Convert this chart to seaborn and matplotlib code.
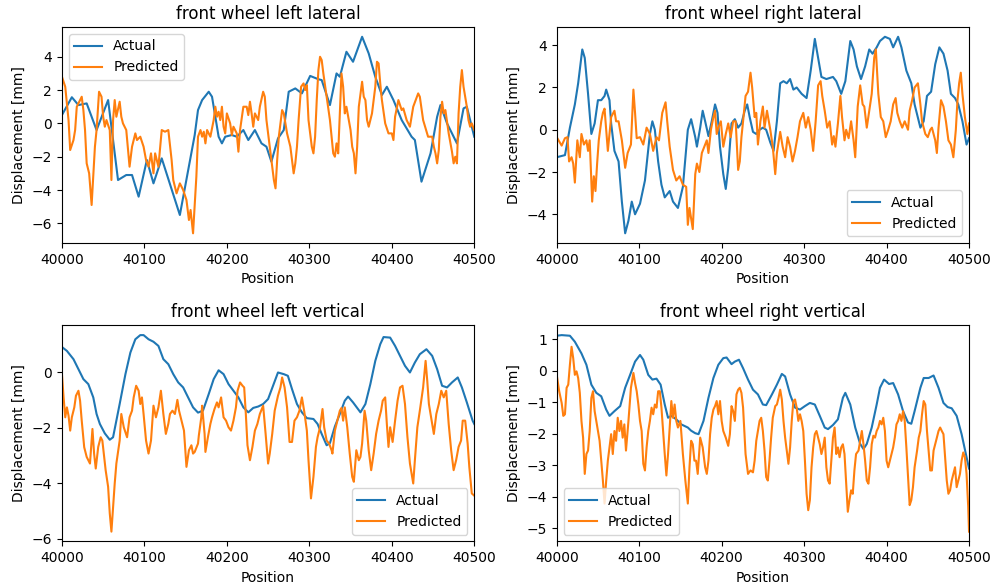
import matplotlib
matplotlib.use("Agg")
import matplotlib.pyplot as plt
import seaborn as sns
import pandas as pd

BASE = 40000
XTICKS = [40000, 40100, 40200, 40300, 40400, 40500]
TITLES = ["front wheel left lateral", "front wheel right lateral",
          "front wheel left vertical", "front wheel right vertical"]
SERIES = ["Actual", "Predicted"]
COLORS = ["#1f77b4", "#ff7f0e"]
LEGEND_LOC = ["upper left", "lower right", "lower right", "lower left"]

# ---------- front wheel left lateral ----------
p1_act_x = [0, 12, 20, 30, 42, 56, 68, 78, 85, 93,
            103, 111, 121, 143, 161, 165, 170, 178, 182, 186,
            190, 194, 198, 206, 212, 220, 226, 234, 242, 248,
            254, 262, 269, 275, 283, 291, 301, 311, 315, 325,
            333, 337, 345, 353, 364, 372, 380, 388, 394, 402,
            412, 424, 428, 436, 447, 455, 459, 467, 479, 487,
            491, 500]
p1_act_y = [0.5, 1.57, 1.1, 1.2, -0.4, 1.4, -3.4, -3.1, -3.1, -4.4,
            -2.2, -3.6, -2.1, -5.5, -0.7, 0.8, 1.4, 1.9, 1.6, 0.4,
            -0.8, -1.2, -0.8, -0.7, -0.8, -0.4, -1.0, -0.4, -1.2, -1.4,
            -2.3, -0.9, -0.4, 1.9, 2.1, 1.8, 2.85, 2.65, 2.6, 1.1,
            3.0, 2.8, 4.3, 3.7, 5.2, 4.2, 2.8, 1.7, 2.2, 1.4,
            0.2, -0.8, -1.0, -3.5, -1.8, 0.4, 1.1, 0.0, -1.2, 0.9,
            1.0, -0.8]
p1_pred_x = [0, 4, 8, 10, 14, 16, 18, 21, 24, 26,
             28, 30, 33, 36, 38, 40, 42, 45, 48, 50,
             52, 54, 58, 60, 62, 64, 66, 70, 72, 74,
             78, 82, 85, 89, 91, 95, 99, 102, 105, 108,
             111, 113, 117, 121, 125, 129, 133, 135, 139, 143,
             147, 151, 154, 156, 159, 163, 165, 168, 170, 172,
             174, 176, 180, 184, 186, 188, 190, 192, 194, 196,
             198, 200, 204, 206, 208, 212, 214, 216, 220, 224,
             226, 228, 230, 232, 234, 238, 240, 244, 246, 248,
             252, 254, 257, 259, 261, 263, 267, 269, 273, 277,
             279, 281, 283, 285, 287, 290, 293, 295, 297, 299,
             303, 305, 307, 309, 311, 313, 315, 317, 321, 325,
             329, 331, 333, 335, 337, 339, 341, 343, 345, 350,
             352, 354, 356, 358, 360, 364, 366, 368, 370, 372,
             376, 380, 382, 384, 386, 388, 392, 396, 400, 402,
             404, 408, 412, 414, 418, 422, 426, 432, 434, 438,
             444, 449, 451, 453, 455, 457, 459, 461, 463, 465,
             469, 473, 475, 477, 479, 481, 483, 485, 487, 491,
             493, 495, 497, 500]
p1_pred_y = [2.8, 2.2, 0.2, -1.6, -1.0, -0.4, 1.0, 1.3, 1.6, 0.8,
             -0.4, -2.4, -3.0, -4.9, -3.2, -1.4, -0.4, 1.9, 1.6, 0.4,
             -0.2, 0.2, -0.4, -3.4, 0.2, 1.4, 0.4, 1.3, 0.4, 0.0,
             -0.4, -2.6, -1.4, -0.6, -1.0, -0.8, -1.4, -2.2, -2.6, -1.8,
             -3.0, -1.8, -2.6, -0.4, -0.5, -0.4, -2.2, -3.4, -4.2, -3.6,
             -4.0, -4.6, -5.8, -5.2, -6.6, -3.2, -0.8, -0.4, -0.8, -0.5,
             -1.2, -0.4, -0.8, 0.2, 1.0, 0.4, 0.7, 0.2, 1.0, -0.2,
             -0.6, 0.6, 0.0, -0.7, -0.2, -0.6, -1.7, -0.4, 1.0, 1.0,
             0.5, 1.3, 0.6, -0.2, 0.6, 0.2, 1.0, 1.9, 1.6, 0.2,
             -1.4, -2.2, -3.4, -3.9, -2.2, -0.8, 0.8, 0.6, -0.6, -1.4,
             -2.2, -3.0, -2.4, -1.4, 0.2, 2.2, 2.4, 2.0, 2.3, 0.2,
             -1.4, -1.8, -0.8, 1.4, 3.2, 4.0, 3.8, 3.0, 1.6, 0.2,
             -1.8, -2.0, -1.2, -1.8, 0.6, 3.0, 2.2, 0.6, 1.0, -0.4,
             -1.4, -1.8, -3.0, -1.4, 1.0, 2.5, 1.6, 1.4, 0.2, -0.2,
             0.6, 2.2, 3.7, 3.6, 2.4, 1.4, 0.0, -0.6, -0.6, -1.0,
             0.4, 1.4, 0.8, 0.9, 0.2, -0.2, 1.0, 1.8, 1.6, 0.2,
             -0.8, -0.8, -1.4, -1.8, -2.4, -1.6, 0.4, 1.3, 0.6, 0.8,
             -0.6, -1.7, -2.4, -2.0, -2.4, 0.6, 2.2, 3.2, 2.2, 1.0,
             0.2, -0.2, 0.0, -0.4]

# ---------- front wheel right lateral ----------
p2_act_x = [0, 10, 16, 22, 26, 31, 34, 38, 42, 46,
            50, 54, 58, 60, 64, 66, 70, 75, 79, 83,
            87, 91, 95, 101, 107, 113, 116, 119, 123, 127,
            131, 137, 141, 147, 153, 159, 163, 168, 170, 174,
            177, 180, 184, 188, 192, 195, 198, 202, 205, 208,
            212, 216, 220, 224, 228, 231, 234, 238, 242, 246,
            250, 254, 259, 263, 267, 271, 275, 279, 283, 287,
            291, 297, 303, 308, 313, 317, 321, 327, 335, 339,
            345, 350, 356, 360, 364, 369, 374, 379, 383, 388,
            392, 398, 404, 408, 414, 418, 424, 430, 434, 441,
            445, 449, 454, 459, 464, 469, 474, 478, 483, 487,
            492, 497, 500]
p2_act_y = [-1.3, -1.2, 0.1, 1.2, 2.2, 3.8, 3.4, 1.7, -0.2, 0.3,
            1.4, 1.4, 1.6, 1.9, 1.4, 0.3, -1.0, -1.5, -3.4, -4.9,
            -4.3, -3.4, -4.0, -3.5, -2.4, -0.2, 0.4, 0.0, -1.5, -2.6,
            -3.2, -2.9, -3.4, -3.7, -2.7, 0.0, 0.5, -0.35, -0.8, 0.1,
            0.9, 0.4, -0.3, 0.4, 1.2, 0.8, -0.8, -2.1, -2.8, -1.8,
            0.3, 0.5, 0.1, 0.3, 0.9, 1.2, 0.6, -0.1, -0.2, 0.0,
            0.1, 0.0, -0.6, -1.0, 0.4, 2.2, 2.3, 2.2, 2.4, 1.9,
            2.0, 1.7, 1.5, 2.8, 4.3, 3.4, 2.5, 2.4, 2.5, 2.3,
            1.7, 2.3, 4.2, 3.8, 3.0, 2.4, 3.0, 3.8, 3.6, 3.9,
            4.2, 4.4, 4.3, 3.9, 4.4, 3.9, 2.8, 2.2, 1.2, 0.1,
            0.4, 1.6, 1.8, 3.1, 3.9, 3.6, 2.8, 1.7, 1.5, 1.2,
            0.4, -0.7, -0.4]
p2_pred_x = [0, 6, 10, 13, 15, 18, 20, 22, 25, 28,
             30, 33, 36, 38, 40, 43, 45, 47, 49, 51,
             54, 56, 58, 60, 62, 66, 70, 72, 75, 79,
             83, 86, 90, 93, 95, 97, 101, 105, 109, 113,
             117, 121, 124, 128, 132, 134, 137, 141, 145, 149,
             153, 157, 159, 161, 165, 168, 170, 173, 176, 178,
             182, 184, 187, 190, 192, 194, 196, 199, 202, 205,
             208, 211, 214, 217, 220, 222, 224, 226, 229, 232,
             235, 237, 240, 242, 244, 247, 250, 252, 255, 259,
             262, 265, 267, 271, 274, 277, 280, 283, 286, 289,
             292, 295, 299, 302, 305, 308, 311, 314, 317, 320,
             322, 325, 328, 331, 334, 336, 338, 341, 344, 346,
             349, 351, 354, 357, 360, 362, 365, 368, 371, 373,
             376, 379, 382, 385, 387, 390, 393, 396, 399, 402,
             405, 408, 411, 413, 416, 419, 422, 426, 428, 431,
             434, 438, 441, 443, 447, 450, 453, 455, 459, 461,
             463, 466, 469, 472, 475, 478, 481, 484, 486, 488,
             490, 492, 495, 498, 500]
p2_pred_y = [-0.35, -0.75, -0.4, -0.35, -1.5, -1.3, -1.6, -2.5, -0.5, -1.3,
             -0.2, -0.7, -0.5, -1.0, -0.5, -3.4, -2.2, -2.9, -1.6, -0.5,
             0.4, 0.8, 1.0, 0.0, -1.0, 0.6, 0.9, 0.4, 0.4, -0.5,
             -1.8, -1.1, -0.7, 1.9, 0.8, -0.4, -0.35, -0.7, 0.1, -0.2,
             -1.0, -0.35, -0.5, 0.8, 1.3, 0.4, -0.8, -1.9, -2.4, -2.2,
             -2.6, -2.7, -4.5, -3.7, -4.7, -2.1, -1.6, -2.0, -1.1, -0.9,
             -0.5, -1.1, 0.0, 0.6, 0.9, -0.2, 0.1, 0.4, -0.8, -0.2,
             0.3, -0.35, 0.4, 0.4, -1.9, -1.5, -0.35, 0.4, 1.6, 1.8,
             2.7, 2.0, 0.6, 0.8, -0.7, 0.4, 1.1, 0.1, 0.9, 0.0,
             -0.8, -2.1, -1.1, -0.1, -0.8, -1.3, -0.35, -0.8, -1.5, -1.0,
             -0.35, 0.4, 0.8, 0.1, 0.6, 0.0, -1.0, 0.4, 2.1, 2.3,
             1.6, 0.9, 0.1, 0.4, -0.7, -0.3, -0.8, 0.3, 1.6, 0.6,
             -0.5, 0.0, -0.4, 0.4, -0.5, -1.3, 1.1, 2.1, 1.2, 1.1,
             0.1, 0.9, 1.7, 3.4, 3.8, 1.7, 0.6, 0.4, -0.35, 0.0,
             0.4, 1.2, 1.5, 0.8, 0.4, 0.1, 0.4, 0.0, 0.9, 1.4,
             2.0, 2.2, 1.2, 0.4, -0.2, -0.35, 0.0, 0.1, -0.5, -1.1,
             0.1, 1.4, 1.1, 0.4, -0.5, -0.7, -1.3, 0.0, 1.4, 2.2,
             2.7, 1.7, 0.6, -0.2, 0.3]

# ---------- front wheel left vertical ----------
p3_act_x = [0, 6, 14, 20, 26, 32, 38, 42, 46, 52,
            58, 62, 66, 70, 77, 83, 89, 95, 99, 105,
            111, 117, 123, 129, 135, 141, 147, 153, 159, 165,
            171, 178, 184, 190, 196, 202, 208, 214, 220, 226,
            232, 238, 244, 250, 256, 262, 269, 274, 279, 285,
            291, 297, 305, 310, 315, 321, 325, 331, 337, 343,
            347, 353, 362, 368, 374, 380, 386, 390, 398, 404,
            410, 416, 422, 428, 434, 442, 449, 455, 461, 467,
            473, 480, 485, 491, 498, 500]
p3_act_y = [0.92, 0.78, 0.48, 0.12, -0.24, -0.42, -0.9, -1.5, -1.86, -2.2,
            -2.43, -2.34, -1.74, -1.14, -0.06, 0.72, 1.2, 1.35, 1.35, 1.2,
            1.11, 0.96, 0.48, 0.3, -0.06, -0.36, -0.54, -0.9, -1.26, -1.45,
            -1.38, -0.78, -0.24, 0.08, -0.06, -0.42, -0.66, -0.9, -1.26, -1.44,
            -1.28, -1.23, -1.14, -0.96, -0.48, 0.0, -0.06, -0.12, -0.6, -1.14,
            -1.44, -1.65, -1.68, -1.86, -2.22, -2.63, -2.55, -1.95, -1.5, -1.02,
            -0.87, -1.08, -1.44, -1.14, -0.42, 0.42, 1.02, 1.28, 1.26, 0.96,
            0.6, 0.24, 0.0, 0.36, 0.66, 0.84, 0.6, 0.12, -0.48, -0.54,
            -0.36, -0.18, -0.54, -1.08, -1.74, -1.86]
p3_pred_x = [0, 2, 4, 6, 8, 10, 12, 15, 17, 20,
             22, 24, 27, 30, 34, 37, 39, 41, 44, 47,
             49, 53, 56, 58, 60, 62, 64, 66, 70, 72,
             75, 79, 82, 85, 87, 90, 93, 95, 97, 99,
             102, 105, 108, 111, 114, 117, 120, 123, 126, 129,
             131, 134, 137, 140, 142, 145, 148, 151, 154, 157,
             159, 161, 165, 166, 169, 170, 173, 174, 177, 180,
             182, 185, 188, 190, 193, 196, 199, 202, 205, 208,
             211, 213, 216, 219, 221, 223, 225, 228, 231, 234,
             237, 240, 244, 247, 250, 252, 255, 258, 262, 265,
             267, 270, 273, 276, 279, 282, 285, 288, 291, 294,
             297, 299, 302, 305, 308, 310, 313, 316, 318, 321,
             324, 327, 328, 331, 334, 337, 339, 341, 343, 346,
             349, 352, 354, 357, 360, 362, 364, 367, 369, 372,
             375, 378, 381, 384, 387, 389, 392, 394, 396, 398,
             401, 404, 407, 410, 413, 416, 419, 422, 426, 428,
             431, 434, 438, 441, 443, 445, 447, 451, 454, 457,
             460, 463, 466, 469, 472, 475, 478, 481, 484, 486,
             489, 492, 494, 497, 500]
p3_pred_y = [-0.06, -0.9, -1.62, -1.26, -1.56, -2.1, -1.62, -1.26, -0.84, -0.66,
             -1.02, -1.74, -2.7, -3.05, -3.29, -2.04, -2.93, -3.47, -2.69, -2.34,
             -2.46, -3.53, -4.13, -5.09, -5.75, -4.85, -4.01, -3.29, -2.46, -1.5,
             -1.98, -2.34, -1.62, -1.38, -0.9, -0.48, -0.66, -1.14, -0.9, -1.5,
             -2.46, -2.93, -2.46, -1.2, -1.62, -1.26, -0.66, -1.5, -2.22, -1.86,
             -1.5, -1.38, -1.5, -0.99, -1.38, -1.74, -2.1, -3.41, -2.81, -2.63,
             -2.93, -2.87, -2.57, -2.28, -1.62, -1.2, -2.22, -2.87, -2.34, -1.86,
             -1.62, -1.32, -1.08, -1.26, -0.9, -1.62, -1.74, -1.98, -2.1, -1.74,
             -1.26, -0.66, -0.36, -0.48, -0.54, -1.5, -2.63, -3.17, -2.69, -2.1,
             -1.86, -1.5, -1.2, -2.22, -3.29, -2.93, -2.22, -1.38, -0.84, -0.54,
             -0.18, -0.54, -1.26, -2.51, -2.51, -1.74, -1.62, -1.38, -0.9, -1.44,
             -2.1, -3.17, -4.55, -3.77, -2.69, -2.34, -1.98, -1.32, -1.98, -2.46,
             -2.57, -2.81, -2.93, -2.1, -1.74, -1.38, -1.28, -1.74, -1.26, -1.98,
             -2.93, -3.77, -3.95, -2.81, -3.17, -3.05, -2.57, -1.38, -1.74, -2.81,
             -3.53, -2.93, -2.22, -1.74, -1.38, -1.02, -0.9, -1.86, -2.69, -1.98,
             -2.51, -1.74, -1.02, -0.54, -0.48, -1.14, -2.34, -3.29, -4.01, -3.17,
             -1.98, -1.38, -0.54, 0.42, -0.3, -1.14, -1.5, -2.22, -1.5, -1.14,
             -0.66, -0.9, -0.66, -1.86, -2.81, -3.53, -3.17, -2.69, -2.46, -1.74,
             -1.74, -2.57, -3.41, -4.37, -4.45]

# ---------- front wheel right vertical ----------
p4_act_x = [0, 6, 16, 22, 30, 36, 42, 48, 54, 60,
            64, 70, 77, 83, 89, 95, 101, 105, 111, 116,
            121, 126, 131, 135, 139, 145, 151, 155, 159, 163,
            168, 172, 178, 184, 190, 196, 202, 206, 212, 216,
            221, 226, 232, 238, 244, 250, 254, 261, 267, 273,
            277, 283, 289, 295, 301, 307, 313, 319, 325, 329,
            335, 341, 347, 350, 356, 362, 368, 372, 376, 382,
            388, 392, 397, 403, 408, 414, 420, 426, 430, 434,
            441, 445, 451, 457, 463, 469, 474, 479, 485, 491,
            497, 500]
p4_act_y = [1.11, 1.13, 1.11, 0.92, 0.55, 0.19, -0.44, -0.7, -0.81, -1.23,
            -1.43, -1.28, -1.12, -0.54, -0.13, 0.29, 0.5, 0.35, -0.13, -0.28,
            -0.25, -0.44, -1.07, -1.49, -1.43, -1.54, -1.7, -1.75, -1.8, -1.9,
            -1.98, -2.01, -1.59, -0.86, -0.23, 0.19, 0.4, 0.42, 0.21, 0.29,
            0.35, 0.08, -0.28, -0.6, -0.75, -1.07, -1.09, -0.75, -0.44, -0.1,
            -0.18, -0.75, -1.17, -1.23, -1.12, -1.02, -1.07, -1.43, -1.8, -1.85,
            -1.72, -1.54, -0.86, -0.7, -1.07, -1.8, -2.32, -2.48, -2.32, -1.8,
            -1.07, -0.54, -0.28, -0.42, -0.39, -0.75, -1.28, -1.64, -1.68, -1.28,
            -0.54, -0.23, -0.23, -0.15, -0.54, -1.02, -1.15, -1.19, -1.43, -2.01,
            -2.74, -3.1]
p4_pred_x = [0, 3, 6, 8, 10, 12, 14, 16, 18, 20,
             22, 24, 26, 28, 30, 32, 34, 36, 38, 40,
             42, 44, 46, 48, 50, 52, 54, 56, 58, 60,
             62, 64, 66, 68, 70, 72, 74, 76, 78, 80,
             82, 84, 87, 90, 93, 95, 97, 99, 101, 103,
             105, 107, 109, 111, 113, 115, 117, 119, 121, 123,
             125, 127, 129, 131, 133, 135, 137, 139, 141, 143,
             145, 147, 150, 153, 156, 159, 161, 163, 165, 167,
             169, 171, 174, 177, 180, 182, 184, 186, 188, 190,
             192, 194, 196, 198, 200, 202, 205, 208, 210, 212,
             214, 216, 218, 220, 222, 224, 226, 229, 232, 235,
             238, 240, 242, 244, 246, 248, 250, 252, 254, 256,
             258, 260, 262, 265, 267, 269, 271, 273, 275, 277,
             279, 281, 283, 285, 287, 289, 291, 293, 295, 297,
             299, 301, 303, 305, 307, 309, 311, 313, 315, 317,
             319, 321, 323, 325, 327, 329, 331, 333, 335, 337,
             339, 341, 343, 345, 347, 349, 351, 353, 355, 357,
             359, 361, 363, 366, 368, 370, 372, 374, 376, 378,
             380, 382, 384, 386, 388, 390, 392, 394, 396, 398,
             400, 402, 404, 406, 408, 410, 412, 414, 416, 418,
             420, 422, 424, 426, 428, 430, 432, 434, 437, 439,
             441, 443, 445, 447, 449, 451, 453, 455, 457, 459,
             461, 463, 465, 467, 469, 471, 473, 475, 477, 479,
             481, 483, 485, 487, 489, 491, 493, 495, 497, 499,
             500]
p4_pred_y = [-0.13, -0.65, -1.02, -1.43, -1.38, -0.54, -0.44, 0.19, 0.76, 0.4,
             -0.13, -0.02, -0.23, -0.7, -1.59, -2.12, -3.27, -2.64, -2.53, -1.91,
             -0.86, -0.65, -1.28, -1.59, -1.91, -2.22, -2.85, -3.48, -4.21, -3.48,
             -2.85, -2.43, -2.01, -2.64, -1.91, -2.22, -1.49, -1.91, -1.59, -2.12,
             -1.7, -2.53, -1.59, -0.54, -0.07, -0.39, -0.65, -1.07, -1.59, -1.91,
             -2.95, -3.16, -2.43, -1.91, -1.59, -1.17, -1.38, -1.07, -1.17, -0.65,
             -0.65, -1.17, -1.91, -2.64, -3.32, -2.64, -1.8, -0.96, -1.49, -1.07,
             -1.59, -1.8, -1.59, -2.64, -3.48, -4.21, -3.06, -2.22, -2.33, -2.85,
             -2.85, -3.27, -2.12, -2.43, -3.06, -3.27, -2.85, -2.01, -1.49, -1.23,
             -1.12, -0.96, -1.38, -0.96, -1.59, -1.91, -2.12, -2.38, -2.01, -1.12,
             -1.28, -1.59, -0.75, -0.6, -0.54, -0.7, -1.17, -2.64, -3.27, -3.16,
             -3.22, -2.85, -2.22, -1.91, -1.59, -1.49, -1.91, -2.53, -3.37, -3.48,
             -2.85, -2.12, -1.49, -1.12, -1.07, -0.86, -0.6, -0.91, -1.59, -2.12,
             -2.53, -2.95, -2.43, -1.59, -0.96, -0.91, -1.17, -1.59, -1.38, -1.59,
             -1.91, -2.85, -3.9, -4.42, -4.1, -3.06, -2.43, -2.01, -1.91, -2.12,
             -2.33, -2.64, -2.43, -2.12, -3.06, -3.48, -3.58, -2.85, -2.12, -1.8,
             -2.64, -2.43, -2.74, -2.43, -2.33, -2.64, -3.58, -4.47, -4.1, -3.79,
             -3.9, -3.16, -2.64, -2.53, -2.22, -1.91, -2.33, -2.85, -3.48, -3.58,
             -3.06, -2.33, -2.06, -2.12, -1.91, -1.8, -1.59, -1.7, -1.49, -1.91,
             -2.85, -3.06, -2.85, -2.64, -2.43, -2.12, -1.7, -1.59, -1.38, -1.59,
             -1.28, -1.59, -2.43, -3.37, -4.26, -4.1, -3.69, -3.06, -2.53, -2.12,
             -1.91, -1.38, -0.96, -1.07, -1.91, -2.53, -3.16, -3.16, -2.53, -2.33,
             -2.12, -1.91, -1.8, -1.91, -2.01, -2.74, -3.48, -3.9, -3.79, -3.48,
             -3.27, -3.06, -3.69, -3.48, -3.27, -2.85, -2.59, -2.74, -3.27, -4.31,
             -5.1]

panels = [
    (p1_act_x, p1_act_y, p1_pred_x, p1_pred_y),
    (p2_act_x, p2_act_y, p2_pred_x, p2_pred_y),
    (p3_act_x, p3_act_y, p3_pred_x, p3_pred_y),
    (p4_act_x, p4_act_y, p4_pred_x, p4_pred_y),
]

fig, axes = plt.subplots(2, 2, figsize=(9.99, 5.86), dpi=100)
fig.subplots_adjust(left=0.062, right=0.970, top=0.954, bottom=0.076,
                    wspace=0.2, hspace=0.38)

for ax, title, loc, (ax_x, ax_y, pr_x, pr_y) in zip(axes.flat, TITLES, LEGEND_LOC, panels):
    frames = []
    for name, xs, ys in ((SERIES[0], ax_x, ax_y), (SERIES[1], pr_x, pr_y)):
        assert len(xs) == len(ys), (title, name, len(xs), len(ys))
        frames.append(pd.DataFrame({"Position": [BASE + v for v in xs],
                                    "Displacement": ys, "Series": name}))
    df = pd.concat(frames, ignore_index=True)
    sns.lineplot(data=df, x="Position", y="Displacement", hue="Series",
                 hue_order=SERIES, palette=COLORS, estimator=None, sort=False,
                 linewidth=1.5, ax=ax)
    ax.set_xlim(40000, 40500)
    ax.set_xticks(XTICKS)
    ax.set_title(title, fontsize=12)
    ax.set_xlabel("Position", fontsize=10)
    ax.set_ylabel("Displacement [mm]", fontsize=10)
    handles, labels = ax.get_legend_handles_labels()
    ax.legend(handles, labels, loc=loc, fontsize=10)

fig.savefig("out.png", dpi=100)
